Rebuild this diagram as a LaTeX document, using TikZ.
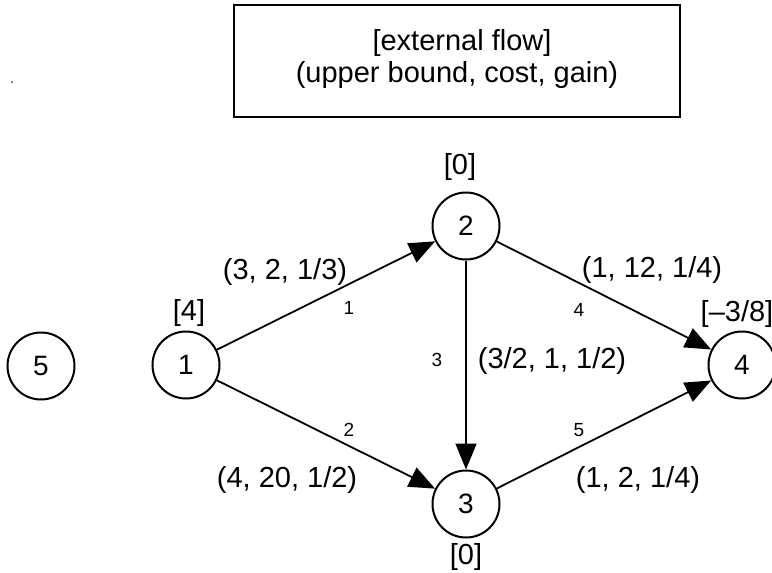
\documentclass[tikz,border=0pt]{standalone}
\usepackage{fontspec}
\setmainfont{Liberation Sans}
\usetikzlibrary{arrows.meta}
\begin{document}
\begin{tikzpicture}[x=1pt,y=-1pt,
  vert/.style={circle,draw,line width=2pt,minimum size=67pt,inner sep=0pt,font=\fontsize{28}{32}\selectfont},
  lab/.style={font=\fontsize{29}{33}\selectfont,inner sep=0pt},
  num/.style={font=\fontsize{19}{22}\selectfont,inner sep=0pt},
  arc/.style={line width=1.8pt,-{Triangle[length=26pt,width=21pt]}}]
\useasboundingbox (0,0) rectangle (772,573);
\fill[gray] (10.7,81) rectangle (12.7,83);
\draw[line width=2.2pt] (234,5) rectangle (680,117);
\node[lab] (t1) at (462,43) {[external flow]};
\node[lab] (t2) at (457,75) {(upper bound, cost, gain)};
\node[vert] (n5) at (41,366) {5};
\node[vert] (n1) at (186,365) {1};
\node[vert] (n2) at (466,226) {2};
\node[vert] (n3) at (466,504) {3};
\node[vert] (n4) at (742,365) {4};
\node[lab] (e1) at (189,313) {[4]};
\node[lab] (e2) at (460,167) {[0]};
\node[lab] (e3) at (466,557) {[0]};
\node[lab] (e4) at (737,314) {[–3/8]};
\draw[arc] (n1) -- (n2);
\draw[arc] (n1) -- (n3);
\draw[arc] (n2) -- (n3);
\draw[arc] (n2) -- (n4);
\draw[arc] (n3) -- (n4);
\node[lab] (l1) at (285,272) {(3, 2, 1/3)};
\node[num] (k1) at (349,308) {1};
\node[lab] (l2) at (287,480) {(4, 20, 1/2)};
\node[num] (k2) at (349,430) {2};
\node[num] (k3) at (437,360) {3};
\node[lab] (l3) at (552,361) {(3/2, 1, 1/2)};
\node[num] (k4) at (579,310) {4};
\node[lab] (l4) at (652,270) {(1, 12, 1/4)};
\node[num] (k5) at (579,430) {5};
\node[lab] (l5) at (638,480) {(1, 2, 1/4)};
\end{tikzpicture}
\end{document}
